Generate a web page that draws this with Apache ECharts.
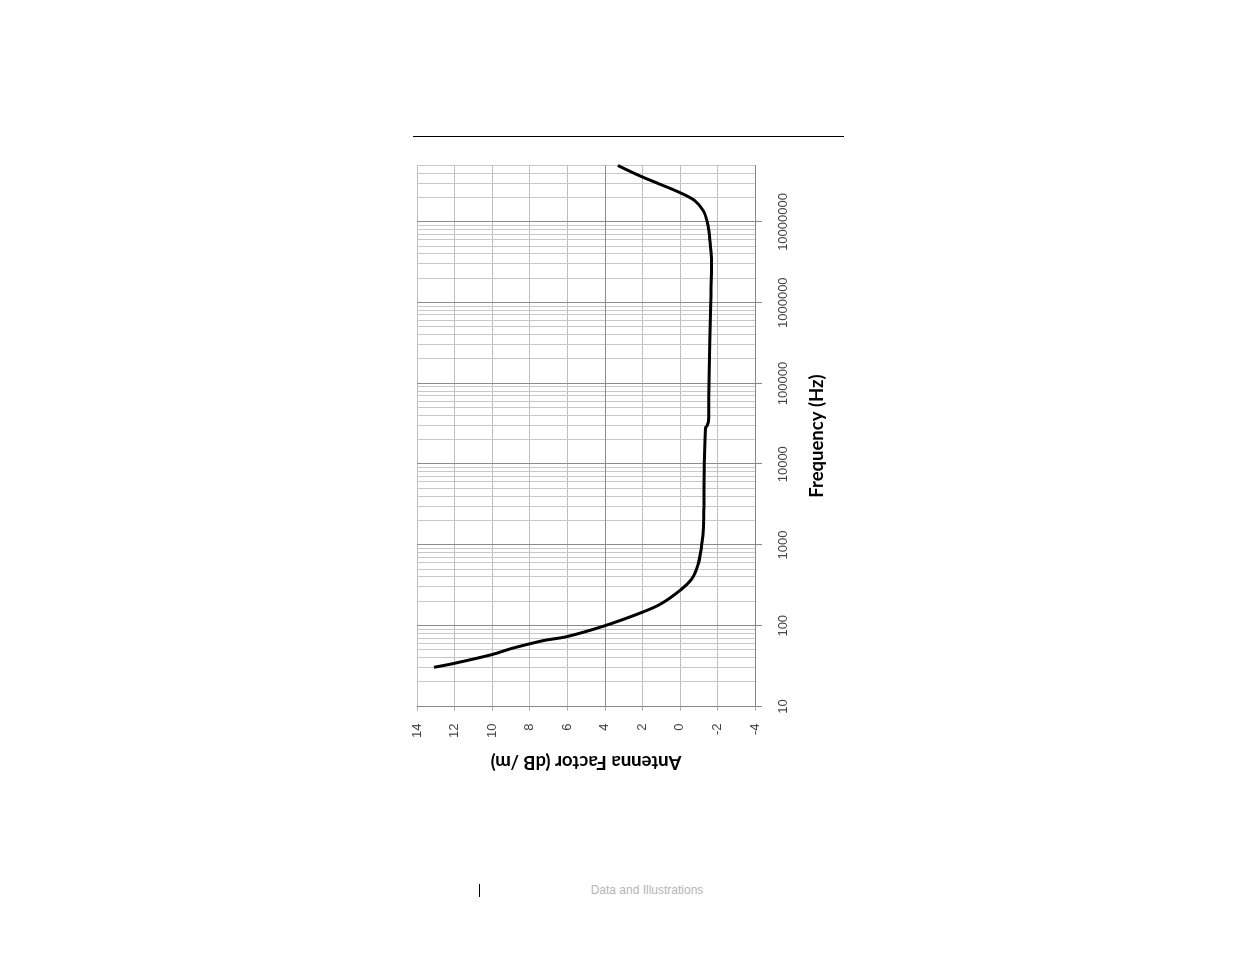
<!DOCTYPE html>
<html>
<head>
<meta charset="utf-8">
<script src="https://cdn.jsdelivr.net/npm/echarts@6/dist/echarts.min.js"></script>
<style>
  html, body { margin: 0; padding: 0; background: #ffffff; width: 1235px; height: 954px; overflow: hidden; }
  #topline { position: absolute; left: 413px; top: 136px; width: 431px; height: 0; border-top: 1px solid #000; }
  #chart { position: absolute; left: 236px; top: 185.5px; width: 700px; height: 500px; transform: rotate(-90deg); transform-origin: 50% 50%; }
  #bar { position: absolute; left: 479px; top: 884px; width: 0; height: 13px; border-left: 1px solid #000; }
  #footer { position: absolute; left: 547px; width: 200px; top: 883px; text-align: center; font-family: "Liberation Sans", Arial, sans-serif; font-size: 12px; color: #b4b4b4; }
</style>
</head>
<body>
<div id="topline"></div>
<div id="chart"></div>
<div id="bar"></div>
<div id="footer">Data and Illustrations</div>
<script>
// Frequency (Hz) and antenna factor (dB/m)
const frequency = [30.6, 34.3, 44, 52, 59.7, 66, 73.5, 100, 147, 187, 273, 380, 583, 800, 1032, 1507, 3000, 10000, 28000, 30000, 34000, 100000, 1000000, 3300000, 5800000, 7500000, 10000000, 13800000, 18300000, 23100000, 29400000, 37200000, 50000000];
const antennaFactor = [13.1, 12.0, 10.0, 9.0, 8.0, 7.2, 6.0, 4.0, 2.0, 1.0, 0.0, -0.63, -0.98, -1.1, -1.17, -1.25, -1.28, -1.30, -1.36, -1.45, -1.52, -1.55, -1.64, -1.69, -1.60, -1.55, -1.46, -1.24, -0.8, 0.0, 1.07, 2.13, 3.3];
const freqTickLabels = [10, 100, 1000, 10000, 100000, 1000000, 10000000];
const afTicks = { min: -4, max: 14, interval: 2 };
const freqRange = { min: 10, max: 50000000 };

// grid line values (decades and 2..9 subdivisions)
const decadeLines = freqTickLabels.slice(1);
const minorLines = [];
freqTickLabels.forEach(function (d) {
  for (let k = 2; k <= 9; k++) {
    const v = d * k;
    if (v <= freqRange.max) minorLines.push(v);
  }
});

const chart = echarts.init(document.getElementById('chart'));
const labelFont = { fontFamily: '"Liberation Sans", Arial, sans-serif', fontSize: 13, color: '#404040' };
const nameFont = { fontFamily: 'Lato, "Open Sans", sans-serif', fontWeight: 'bold', fontSize: 18.5, color: '#000' };

chart.setOption({
  animation: false,
  grid: { left: 79.5, right: 79.5, top: 81, bottom: 81 },
  xAxis: {
    type: 'log',
    logBase: 10,
    min: freqRange.min,
    max: freqRange.max,
    name: 'Frequency (Hz)',
    nameLocation: 'middle',
    nameGap: 53,
    nameTextStyle: nameFont,
    axisLine: { onZero: false, lineStyle: { color: '#888', width: 1 } },
    axisTick: { show: true, inside: false, length: 7, customValues: freqTickLabels, lineStyle: { color: '#888' } },
    axisLabel: Object.assign({ margin: 22, customValues: freqTickLabels, formatter: function (v) { return String(Math.round(v)); } }, labelFont),
    splitLine: { show: false },
    minorTick: { show: false },
    minorSplitLine: { show: false }
  },
  yAxis: {
    type: 'value',
    min: afTicks.min,
    max: afTicks.max,
    interval: afTicks.interval,
    name: 'Antenna Factor (dB /m)',
    nameLocation: 'middle',
    nameGap: 46,
    nameTextStyle: nameFont,
    axisLine: { show: true, onZero: false, lineStyle: { color: '#888', width: 1 } },
    axisTick: { show: true, inside: false, length: 4, lineStyle: { color: '#aaa' } },
    axisLabel: Object.assign({ margin: 17 }, labelFont),
    splitLine: { show: true, lineStyle: { color: '#bdbdbd', width: 1 } }
  },
  series: [
    {
      type: 'line',
      data: [],
      silent: true,
      z: 1,
      markLine: {
        silent: true,
        symbol: 'none',
        label: { show: false },
        animation: false,
        data: minorLines.map(function (v) { return { xAxis: v, lineStyle: { color: '#c8c8c8', width: 1, type: 'solid' } }; })
          .concat(decadeLines.map(function (v) { return { xAxis: v, lineStyle: { color: '#8c8c8c', width: 1, type: 'solid' } }; }))
          .concat([{ yAxis: 4, lineStyle: { color: '#8c8c8c', width: 1, type: 'solid' } }])
      }
    },
    {
      type: 'line',
      z: 5,
      data: frequency.map(function (f, i) { return [f, antennaFactor[i]]; }),
      showSymbol: false,
      smooth: 0.35,
      lineStyle: { color: '#000', width: 3 }
    }
  ]
});
</script>
</body>
</html>
